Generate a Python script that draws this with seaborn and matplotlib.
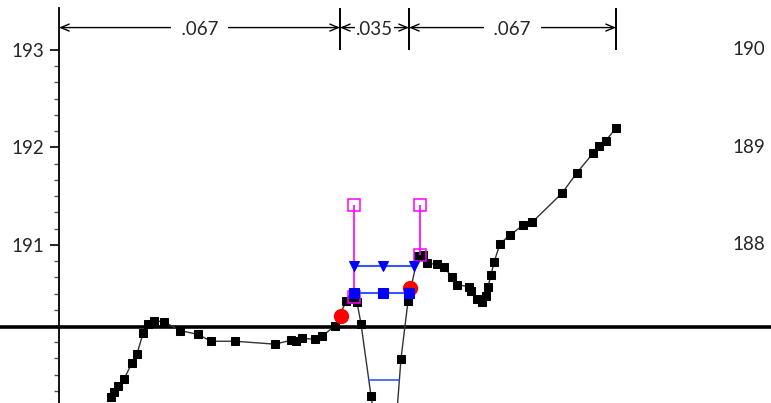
import numpy as np
import matplotlib.pyplot as plt
import seaborn as sns
from matplotlib.ticker import FixedLocator

# price trace (x in chart units, y in price)
trace_x = [52, 55, 59, 65, 73, 78, 84, 89, 95, 105, 121, 139, 152, 176,
           216, 232, 237, 243, 256, 263, 276, 287, 293, 298, 302, 312,
           320, 335, 342, 349, 359, 364, 368, 378, 385, 393, 398, 410,
           412, 418, 423, 427, 429, 432, 435, 441, 451, 464, 473, 503,
           518, 534, 540, 547, 557]
trace_y = [189.44, 189.49, 189.55, 189.62, 189.79, 189.88, 190.09, 190.19,
           190.22, 190.21, 190.12, 190.08, 190.01, 190.01, 189.98, 190.02,
           190.01, 190.04, 190.03, 190.06, 190.17, 190.42, 190.44, 190.41,
           190.19, 189.45, 188.89, 188.89, 189.83, 190.42, 190.89, 190.90,
           190.81, 190.80, 190.77, 190.67, 190.59, 190.57, 190.53, 190.44,
           190.41, 190.47, 190.57, 190.69, 190.82, 191.01, 191.10, 191.20,
           191.23, 191.53, 191.74, 191.94, 192.01, 192.07, 192.20]

red_x = [282, 351]
red_y = [190.27, 190.56]

upper_x = [295, 324, 355]
upper_y = [190.78, 190.78, 190.78]
lower_x = [295, 324, 350]
lower_y = [190.51, 190.51, 190.51]
bottom_x = [310, 340]
bottom_y = [189.61, 189.61]

box_x = [295, 361]
box_top = [191.41, 191.41]
box_bottom = [190.46, 190.90]

baseline = 190.16
dim_edges = [0, 281, 350, 557]
dim_labels = ['.067', '.035', '.067']
dim_level = 193.23
left_ticks = [193, 192, 191]
right_offset = 3

sns.set_style('white')
plt.rcParams['font.family'] = ['Lato', 'DejaVu Sans']

fig = plt.figure(figsize=(7.71, 4.03), dpi=100)
ax = fig.add_axes([0, 0, 1, 1])
ymin, ymax = 189.376, 193.513
ax.set_xlim(-59, 712)
ax.set_ylim(ymin, ymax)

ax.axhline(baseline, color='black', lw=2.6, zorder=1)

sns.lineplot(x=trace_x, y=trace_y, sort=False, color='#333333', lw=1,
             marker='s', markersize=6, markerfacecolor='black',
             markeredgecolor='black', ax=ax, zorder=2)

ax.plot(red_x, red_y, 'o', color='red', markersize=10, zorder=3)

# magenta stems with open squares
ax.vlines(box_x, box_bottom, box_top, color='magenta', lw=1.2, zorder=4)
ax.plot(box_x + box_x, box_top + box_bottom, 's', markersize=9,
        markerfacecolor='none', markeredgecolor='magenta', mew=1.1, zorder=4)

# blue levels
sns.lineplot(x=upper_x, y=upper_y, color='#3a55ff', lw=1.5, marker='v',
             markersize=7, markerfacecolor='blue', markeredgecolor='blue',
             ax=ax, zorder=5)
sns.lineplot(x=lower_x, y=lower_y, color='#3a55ff', lw=1.5, marker='s',
             markersize=7, markerfacecolor='blue', markeredgecolor='blue',
             ax=ax, zorder=5)
sns.lineplot(x=bottom_x, y=bottom_y, color='#3a55ff', lw=1.2, ax=ax, zorder=5)

# dimension annotations across the top
for a, b, lab in zip(dim_edges[:-1], dim_edges[1:], dim_labels):
    ax.annotate('', xy=(a, dim_level), xytext=(b, dim_level),
                arrowprops=dict(arrowstyle='<->,head_length=0.6,head_width=0.25',
                                color='black', lw=1, shrinkA=0, shrinkB=0))
    pad = '  ' if lab != '.035' else ''
    ax.text((a + b) / 2, dim_level - 0.02, pad + lab + pad, ha='center',
            va='center', fontsize=13.5,
            bbox=dict(facecolor='white', edgecolor='none',
                      boxstyle='square,pad=0.05'))
ax.vlines(dim_edges[1:], 193.0, 193.43, color='black', lw=1.4)

# axes styling
for side in ['top', 'right', 'bottom']:
    ax.spines[side].set_visible(False)
ax.spines['left'].set_position(('data', 0))
ax.spines['left'].set_bounds(ymin, 193.43)
ax.spines['left'].set_linewidth(1.3)
ax.spines['left'].set_color('black')
ax.set_xticks([])
ax.set_yticks(left_ticks)
ax.set_yticklabels([str(t) for t in left_ticks], fontsize=13.5)
ax.yaxis.set_minor_locator(FixedLocator(np.arange(189.5, 193.01, 1 / 6)))
ax.tick_params(axis='y', which='major', length=6.5, width=1.2, color='black',
               pad=4, left=True, direction='out')
ax.tick_params(axis='y', which='minor', length=3.8, width=1.0, color='#555555',
               left=True, direction='out')
for t in left_ticks:
    ax.text(690, t, str(t - right_offset), ha='center', va='center',
            fontsize=13.5)

fig.savefig('out.png', dpi=100)
